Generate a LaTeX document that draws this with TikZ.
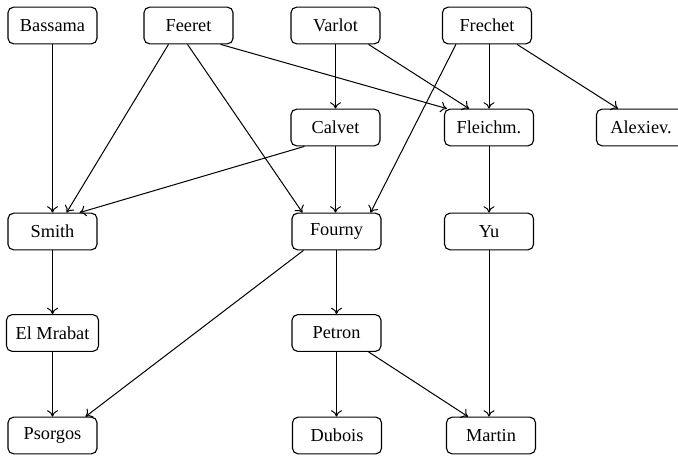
\documentclass[tikz,border=0pt]{standalone}
\usepackage{fontspec}
\setmainfont{Liberation Serif}
\usetikzlibrary{calc,arrows,arrows.meta,positioning}
\tikzset{
    person/.style={
    rectangle,rounded corners=3pt,draw=black,line width=0.6pt,
    minimum width=48.6pt,minimum height=20pt,inner xsep=5pt,font=\fontsize{10}{12}\selectfont
    },
    link/.style={
    -{To[length=3.5pt,width=6pt]},line width=0.55pt
    },
}
\begin{document}
\begin{tikzpicture}[x=0.546pt, y=-0.546pt, auto]
   \useasboundingbox (0,0) rectangle (678,456);
   % first row
   \node[person] (bassama) at (52.5,25.5) {Bassama};
   \node[person] (feeret) at (188.5,25.5) {Feeret};
   \node[person] (varlot) at (335.5,25.5) {Varlot};
   \node[person] (frechet) at (487,25.5) {Frechet};
   % second row
   \node[person] (calvet) at (335.5,127.5) {Calvet};
   \node[person] (fleichm) at (489,127.5) {Fleichm.};
   \node[person] (alexiev) at (641,127.5) {Alexiev.};
   % third row
   \node[person] (smith) at (52.5,231.5) {Smith};
   \node[person] (fourny) at (336.5,231.5) {Fourny};
   \node[person] (yu) at (489,231.5) {Yu};
   % fourth row
   \node[person] (elmrabat) at (52.5,333) {El Mrabat};
   \node[person] (petron) at (336.5,333) {Petron};
   % last row
   \node[person] (psorgos) at (52.5,435.5) {Psorgos};
   \node[person] (dubois) at (337,435.5) {Dubois};
   \node[person] (martin) at (491,435.5) {Martin};

  \path[link]
    (bassama) edge (smith)
    ($(feeret.south)+(-20,0)$) edge ($(smith.north)+(14,0)$)
    ($(feeret.south)+(-1,0)$) edge ($(fourny.north)+(-34,0)$)
    ($(feeret.south)+(32,0)$) edge ($(fleichm.north)+(-42,0)$)
    (varlot) edge (calvet)
    ($(varlot.south)+(33,0)$) edge ($(fleichm.north)+(-20,0)$)
    ($(frechet.south)+(-31,0)$) edge ($(fourny.north)+(34,0)$)
    (frechet.south -| fleichm) edge (fleichm)
    ($(frechet.south)+(30,0)$) edge ($(alexiev.north)+(-23,0)$)
    ($(calvet.south)+(-31,0)$) edge ($(smith.north)+(27,0)$)
    (calvet) edge (calvet |- fourny.north)
    (fleichm) edge (yu)
    (smith) edge (elmrabat)
    ($(fourny.south)+(-33,0)$) edge ($(psorgos.north)+(33,0)$)
    (fourny) edge (petron)
    (yu) edge (yu |- martin.north)
    (elmrabat) edge (psorgos)
    (petron) edge (petron |- dubois.north)
    ($(petron.south)+(32,0)$) edge ($(martin.north)+(-23,0)$);
\end{tikzpicture}
\end{document}
